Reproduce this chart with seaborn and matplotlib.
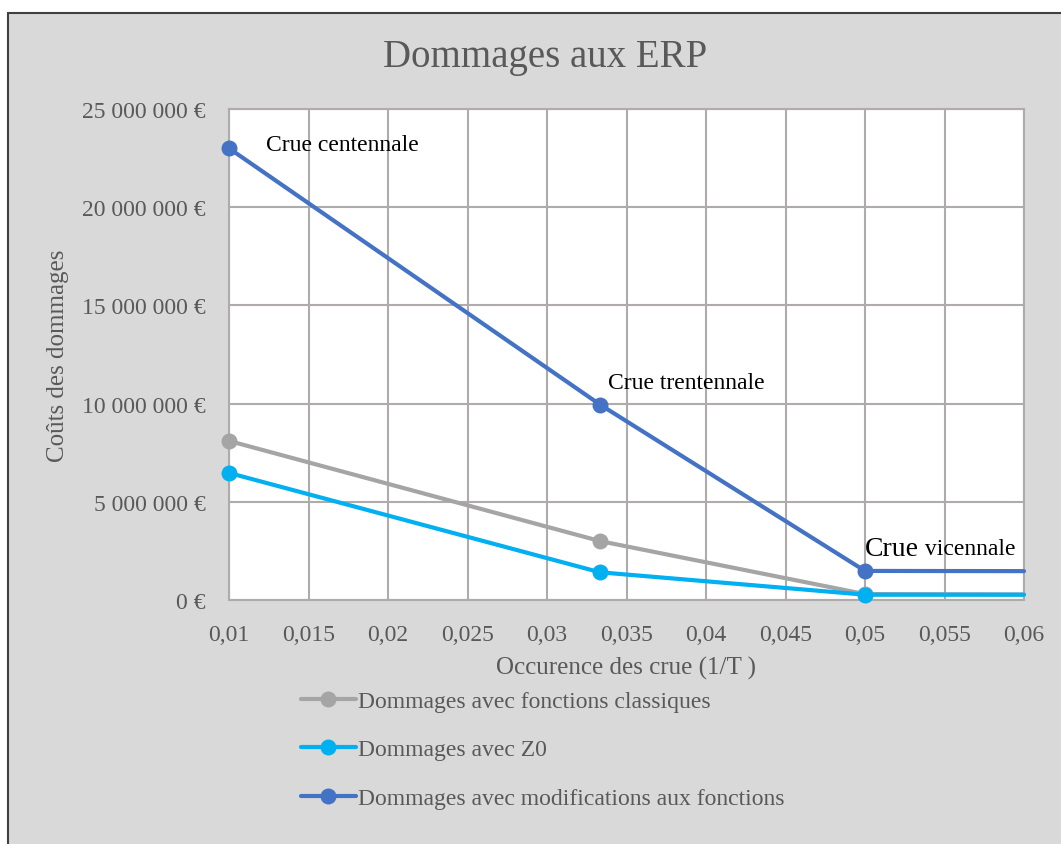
import matplotlib
matplotlib.use("Agg")
import matplotlib.pyplot as plt
import matplotlib.patches as mpatches
from matplotlib.lines import Line2D
import seaborn as sns
import pandas as pd

# données (dernier point = valeur lue au bord droit, 0,06)
occurence = [0.01, 1 / 30, 0.05, 0.06]
dmg_classiques = [8.1e6, 3.0e6, 0.30e6, 0.28e6]
dmg_z0 = [6.47e6, 1.41e6, 0.27e6, 0.27e6]
dmg_modif = [23.0e6, 9.95e6, 1.48e6, 1.47e6]

series = ["Dommages avec fonctions classiques",
          "Dommages avec Z0",
          "Dommages avec modifications aux fonctions"]
couleurs = ["#A5A5A5", "#00B0F0", "#4472C4"]

xticks = [0.01, 0.015, 0.02, 0.025, 0.03, 0.035, 0.04, 0.045, 0.05, 0.055, 0.06]
xtick_labels = ["0,01", "0,015", "0,02", "0,025", "0,03", "0,035", "0,04",
                "0,045", "0,05", "0,055", "0,06"]
yticks = [0, 5e6, 10e6, 15e6, 20e6, 25e6]
ytick_labels = ["0 €", "5 000 000 €", "10 000 000 €", "15 000 000 €",
                "20 000 000 €", "25 000 000 €"]

crues = ["Crue centennale", "Crue trentennale", "Crue vicennale"]

sns.set_style("white")
plt.rcParams["font.family"] = ["Liberation Serif", "DejaVu Serif"]

fig = plt.figure(figsize=(10.61, 8.45), dpi=100)
fig.patch.set_facecolor("white")
# cadre gris du graphique Excel
cadre = mpatches.Rectangle((8 / 1061, -0.01), 1.0, 1 - 14 / 845 + 0.01,
                           transform=fig.transFigure, facecolor="#D9D9D9",
                           edgecolor="#404040", linewidth=1.5, zorder=-5)
fig.patches.append(cadre)

ax = fig.add_axes([229 / 1061, 1 - 601 / 845, (1024 - 229) / 1061, (601 - 110) / 845])
ax.set_facecolor("white")

df = pd.DataFrame({"x": occurence * 3,
                   "y": dmg_classiques + dmg_z0 + dmg_modif,
                   "serie": [s for s in series for _ in occurence]})

for s, c in zip(series, couleurs):
    sub = df[df["serie"] == s]
    sns.lineplot(data=sub, x="x", y="y", color=c, marker="o", markersize=11.5,
                 markeredgewidth=0, linewidth=3, ax=ax, legend=False, zorder=3,
                 markevery=[0, 1, 2])

for line in ax.lines:
    line.set_clip_on(False)

ax.set_xlim(0.01, 0.06)
ax.set_ylim(0, 25e6)
ax.set_xticks(xticks)
ax.set_xticklabels(xtick_labels)
ax.set_yticks(yticks)
ax.set_yticklabels(ytick_labels)
ax.tick_params(length=0, labelsize=17, colors="#595959", pad=17)
ax.grid(True, color="#B0ABAB", linewidth=1.5)
for sp in ax.spines.values():
    sp.set_color("#B0ABAB")
    sp.set_linewidth(1.5)

ax.set_xlabel("Occurence des crue (1/T )", fontsize=18, color="#595959", labelpad=8)
ax.set_ylabel("Coûts des dommages", fontsize=18, color="#595959", labelpad=9)
fig.text(545 / 1061, 1 - 57 / 845, "Dommages aux ERP", fontsize=28, color="#595959",
         ha="center", va="center")

# étiquettes des crues
ax.annotate(crues[0], (occurence[0], dmg_modif[0]), xytext=(37, 4),
            textcoords="offset pixels", fontsize=17, va="center", ha="left",
            color="black")
ax.annotate(crues[1], (occurence[1], dmg_modif[1]), xytext=(8, 22),
            textcoords="offset pixels", fontsize=17, va="center", ha="left",
            color="black")
mot, suite = crues[2].split(" ")
t = ax.annotate(mot, (occurence[2], dmg_modif[2]), xytext=(0, 10),
                textcoords="offset pixels", fontsize=20, va="bottom", ha="left",
                color="black")
ax.annotate(" " + suite, xy=(1, 0), xycoords=t, xytext=(0, 2),
            textcoords="offset pixels", fontsize=17, va="bottom", ha="left",
            color="black")

handles = [Line2D([], [], color=c, marker="o", markersize=11.5, markeredgewidth=0,
                  linewidth=3) for c in couleurs]
leg = fig.legend(handles, series, loc="upper left",
                 bbox_to_anchor=(280 / 1061, 1 - 670 / 845), frameon=False,
                 fontsize=17, labelcolor="#595959", handlelength=2.3,
                 handletextpad=0.1, labelspacing=1.15)

fig.savefig("out.png", dpi=100)
